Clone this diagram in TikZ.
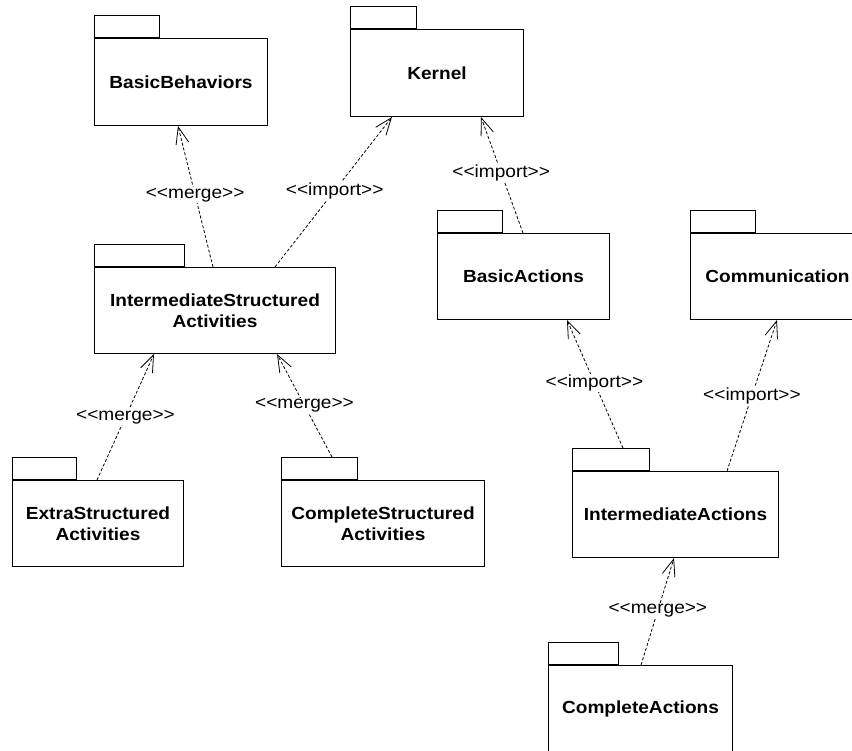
\documentclass[tikz,border=0pt]{standalone}
\usepackage{fontspec}
\newfontfamily\pkgfont{Liberation Sans}[FakeStretch=1.09]
\usetikzlibrary{arrows.meta}
\begin{document}
\begin{tikzpicture}[x=1pt,y=-1pt,
  pkg/.style={draw, line width=1pt, rectangle, inner sep=0pt, anchor=north west,
    align=center, font=\pkgfont\bfseries\fontsize{17.5}{21.5}\selectfont},
  pkgtab/.style={draw, line width=1pt, rectangle, inner sep=0pt, anchor=south west,
    minimum height=22pt},
  dep/.style={line width=0.8pt, dash pattern=on 3pt off 2pt,
    -{Straight Barb[length=17pt,width=13pt,line width=0.8pt]}},
  lbl/.style={fill=white, inner sep=1pt, font=\pkgfont\fontsize{17.5}{21}\selectfont}]
\useasboundingbox (0,0) rectangle (852,751);

% packages: body, then the tab on its top left corner
\node[pkg, minimum width=173pt, minimum height=87pt] (bb) at (94,38) {BasicBehaviors};
\node[pkgtab, minimum width=65pt] (bbtab) at (bb.north west) {};

\node[pkg, minimum width=173pt, minimum height=87pt] (kernel) at (350,29) {Kernel};
\node[pkgtab, minimum width=66pt] (kerneltab) at (kernel.north west) {};

\node[pkg, minimum width=241pt, minimum height=86pt] (isa) at (94,267) {IntermediateStructured\\Activities};
\node[pkgtab, minimum width=90pt] (isatab) at (isa.north west) {};

\node[pkg, minimum width=172pt, minimum height=86pt] (ba) at (437,233) {BasicActions};
\node[pkgtab, minimum width=65pt] (batab) at (ba.north west) {};

\node[pkg, minimum width=174pt, minimum height=86pt] (comm) at (690,233) {Communication};
\node[pkgtab, minimum width=65pt] (commtab) at (comm.north west) {};

\node[pkg, minimum width=171pt, minimum height=86pt] (esa) at (12,480) {ExtraStructured\\Activities};
\node[pkgtab, minimum width=64pt] (esatab) at (esa.north west) {};

\node[pkg, minimum width=203pt, minimum height=86pt] (csa) at (281,480) {CompleteStructured\\Activities};
\node[pkgtab, minimum width=76pt] (csatab) at (csa.north west) {};

\node[pkg, minimum width=206pt, minimum height=86pt] (ia) at (572,471) {IntermediateActions};
\node[pkgtab, minimum width=77pt] (iatab) at (ia.north west) {};

\node[pkg, minimum width=184pt, minimum height=86pt] (ca) at (548,665) {CompleteActions};
\node[pkgtab, minimum width=70pt] (catab) at (ca.north west) {};

% connector ends on the package edges
\coordinate (s1) at ([xshift=119pt]isa.north west);
\coordinate (t1) at ([xshift=84pt]bb.south west);
\coordinate (s2) at ([xshift=181pt]isa.north west);
\coordinate (t2) at ([xshift=42pt]kernel.south west);
\coordinate (s3) at ([xshift=86pt]ba.north west);
\coordinate (t3) at ([xshift=131pt]kernel.south west);
\coordinate (s4) at ([xshift=85pt]esa.north west);
\coordinate (t4) at ([xshift=60pt]isa.south west);
\coordinate (s5) at ([xshift=51pt]csatab.north west);
\coordinate (t5) at ([xshift=183pt]isa.south west);
\coordinate (s6) at ([xshift=51pt]iatab.north west);
\coordinate (t6) at ([xshift=130pt]ba.south west);
\coordinate (s7) at ([xshift=155pt]ia.north west);
\coordinate (t7) at ([xshift=87pt]comm.south west);
\coordinate (s8) at ([xshift=93pt]ca.north west);
\coordinate (t8) at ([xshift=102pt]ia.south west);

% dependencies
\draw[dep] (s1) -- node[lbl, pos=0.51] (l1) {<<merge>>} (t1);
\draw[dep] (s2) -- node[lbl, pos=0.51] (l2) {<<import>>} (t2);
\draw[dep] (s3) -- node[lbl, pos=0.52] (l3) {<<import>>} (t3);
\draw[dep] (s4) -- node[lbl, pos=0.50] (l4) {<<merge>>} (t4);
\draw[dep] (s5) -- node[lbl, pos=0.50] (l5) {<<merge>>} (t5);
\draw[dep] (s6) -- node[lbl, pos=0.51] (l6) {<<import>>} (t6);
\draw[dep] (s7) -- node[lbl, pos=0.50] (l7) {<<import>>} (t7);
\draw[dep] (s8) -- node[lbl, pos=0.51] (l8) {<<merge>>} (t8);
\end{tikzpicture}
\end{document}
